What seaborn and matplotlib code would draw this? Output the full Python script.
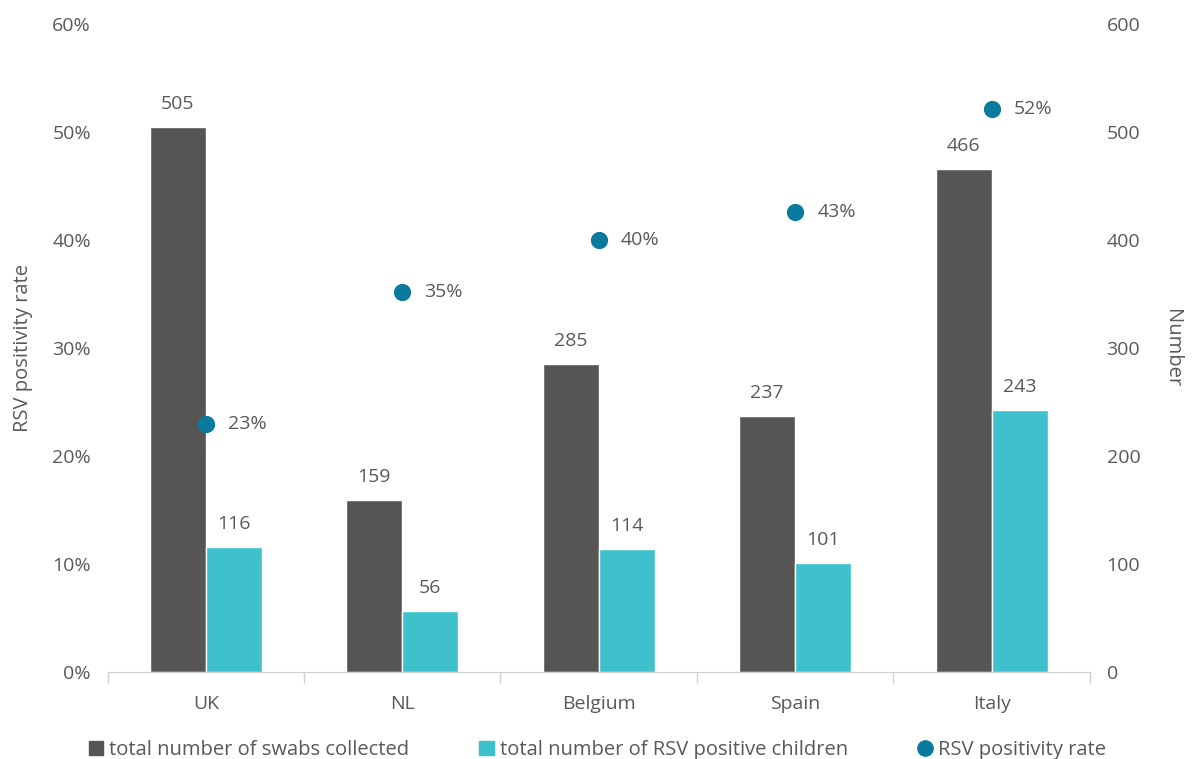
import matplotlib
matplotlib.use("Agg")
import matplotlib.pyplot as plt
import seaborn as sns
import pandas as pd
from matplotlib.lines import Line2D
from matplotlib.patches import Patch

countries = ["UK", "NL", "Belgium", "Spain", "Italy"]
swabs = [505, 159, 285, 237, 466]
positives = [116, 56, 114, 101, 243]
rates = [0.2297, 0.3522, 0.4000, 0.4262, 0.5215]
rate_labels = ["23%", "35%", "40%", "43%", "52%"]

grey = "#575553"
teal = "#3ec1cd"
blue = "#0a7a9e"
txt = "#595959"

sns.set_style("white")
plt.rcParams["font.family"] = ["Open Sans", "DejaVu Sans"]
plt.rcParams["text.color"] = txt
plt.rcParams["axes.labelcolor"] = txt
plt.rcParams["xtick.color"] = txt
plt.rcParams["ytick.color"] = txt

df = pd.DataFrame({
    "country": countries * 2,
    "value": swabs + positives,
    "series": ["total number of swabs collected"] * 5 + ["total number of RSV positive children"] * 5,
})

fig, ax = plt.subplots(figsize=(11.95, 7.59), dpi=100)
sns.barplot(data=df, x="country", y="value", hue="series", palette=[grey, teal],
            width=0.57, gap=0, ax=ax, legend=False, saturation=1)
for cont in ax.containers:
    ax.bar_label(cont, padding=10, fontsize=14, color=txt)

ax2 = ax.twinx()

# numbers on the right, rates on the left
ax.yaxis.tick_right()
ax.yaxis.set_label_position("right")
ax2.yaxis.tick_left()
ax2.yaxis.set_label_position("left")

ax.set_ylim(0, 600)
ax.set_yticks(range(0, 601, 100))
ax.set_ylabel("Number", fontsize=14.5, rotation=270, labelpad=30)
ax.set_xlabel("")

ax2.scatter(range(len(countries)), rates, s=130, color=blue, zorder=5)
for i, (r, lab) in enumerate(zip(rates, rate_labels)):
    ax2.annotate(lab, (i, r), xytext=(16, 0), textcoords="offset points",
                 va="center", ha="left", fontsize=14, color=txt)
ax2.set_ylim(0, 0.6)
ax2.set_yticks([i / 10 for i in range(7)])
ax2.set_yticklabels([f"{i*10}%" for i in range(7)])
ax2.set_ylabel("RSV positivity rate", fontsize=14.5, labelpad=14)
ax.set_xlim(-0.5, 4.5)

for a in (ax, ax2):
    for s in ("top", "left", "right"):
        a.spines[s].set_visible(False)
    a.spines["bottom"].set_color("#d0d0d0")
    a.tick_params(axis="y", length=0, labelsize=14, pad=12)
ax2.spines["bottom"].set_visible(False)

ax.set_xticks(range(5))
ax.set_xticklabels(countries)
ax.tick_params(axis="x", length=0, labelsize=14, pad=17)
ax.set_xticks([i - 0.5 for i in range(6)], minor=True)
ax.tick_params(axis="x", which="minor", bottom=True, length=8, color="#d0d0d0", width=1)

handles = [
    Patch(color=grey, label="total number of swabs collected"),
    Patch(color=teal, label="total number of RSV positive children"),
    Line2D([], [], marker="o", linestyle="", markersize=11, color=blue, label="RSV positivity rate"),
]
fig.legend(handles=handles, loc="lower center", ncol=3, frameon=False, fontsize=14.5,
           bbox_to_anchor=(0.5, -0.025), handlelength=0.7, handleheight=0.7,
           handletextpad=0.3, columnspacing=3.5)

fig.subplots_adjust(left=0.09, right=0.912, top=0.968, bottom=0.115)
fig.savefig("out.png", dpi=100)
